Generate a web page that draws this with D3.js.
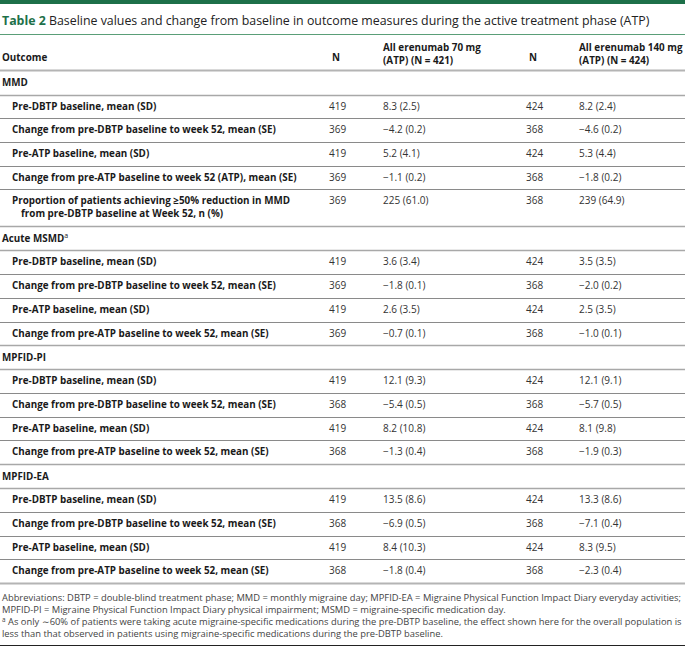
<!DOCTYPE html>
<html><head><meta charset="utf-8">
<script src="https://cdn.jsdelivr.net/npm/d3@7"></script>
<style>
html,body{margin:0;padding:0;background:#fff;}
svg{display:block;font-family:"Open Sans",sans-serif;}
</style></head>
<body><div id="chart"></div>
<script>
// ---- data ----
const titleLabel = "Table 2";
const titleText = "Baseline values and change from baseline in outcome measures during the active treatment phase (ATP)";
const headerLabels = ["Outcome", "N", "All erenumab 70 mg|(ATP) (N = 421)", "N", "All erenumab 140 mg|(ATP) (N = 424)"];
const sections = ["MMD", "Acute MSMD", "MPFID-PI", "MPFID-EA"];
const sectionSup = ["", "a", "", ""];
const rowLabels = [
  ["Pre-DBTP baseline, mean (SD)", "Change from pre-DBTP baseline to week 52, mean (SE)", "Pre-ATP baseline, mean (SD)", "Change from pre-ATP baseline to week 52 (ATP), mean (SE)", "Proportion of patients achieving ≥50% reduction in MMD|from pre-DBTP baseline at Week 52, n (%)"],
  ["Pre-DBTP baseline, mean (SD)", "Change from pre-DBTP baseline to week 52, mean (SE)", "Pre-ATP baseline, mean (SD)", "Change from pre-ATP baseline to week 52, mean (SE)"],
  ["Pre-DBTP baseline, mean (SD)", "Change from pre-DBTP baseline to week 52, mean (SE)", "Pre-ATP baseline, mean (SD)", "Change from pre-ATP baseline to week 52, mean (SE)"],
  ["Pre-DBTP baseline, mean (SD)", "Change from pre-DBTP baseline to week 52, mean (SE)", "Pre-ATP baseline, mean (SD)", "Change from pre-ATP baseline to week 52, mean (SE)"]
];
const n70 = [[419, 369, 419, 369, 369], [419, 369, 419, 369], [419, 368, 419, 368], [419, 368, 419, 368]];
const val70 = [
  ["8.3 (2.5)", "−4.2 (0.2)", "5.2 (4.1)", "−1.1 (0.2)", "225 (61.0)"],
  ["3.6 (3.4)", "−1.8 (0.1)", "2.6 (3.5)", "−0.7 (0.1)"],
  ["12.1 (9.3)", "−5.4 (0.5)", "8.2 (10.8)", "−1.3 (0.4)"],
  ["13.5 (8.6)", "−6.9 (0.5)", "8.4 (10.3)", "−1.8 (0.4)"]
];
const n140 = [[424, 368, 424, 368, 368], [424, 368, 424, 368], [424, 368, 424, 368], [424, 368, 424, 368]];
const val140 = [
  ["8.2 (2.4)", "−4.6 (0.2)", "5.3 (4.4)", "−1.8 (0.2)", "239 (64.9)"],
  ["3.5 (3.5)", "−2.0 (0.2)", "2.5 (3.5)", "−1.0 (0.1)"],
  ["12.1 (9.1)", "−5.7 (0.5)", "8.1 (9.8)", "−1.9 (0.3)"],
  ["13.3 (8.6)", "−7.1 (0.4)", "8.3 (9.5)", "−2.3 (0.4)"]
];
const footLines = [
  "Abbreviations: DBTP = double-blind treatment phase; MMD = monthly migraine day; MPFID-EA = Migraine Physical Function Impact Diary everyday activities;",
  "MPFID-PI = Migraine Physical Function Impact Diary physical impairment; MSMD = migraine-specific medication day.",
  "^a As only ∼60% of patients were taking acute migraine-specific medications during the pre-DBTP baseline, the effect shown here for the overall population is",
  "less than that observed in patients using migraine-specific medications during the pre-DBTP baseline."
];

// ---- layout ----
const W = 685, H = 648;
const svg = d3.select("#chart").append("svg").attr("width", W).attr("height", H);
const green = "#1d7049";
const txt = "#1a1a1a";

// font-size fitting helper: size such that sample string spans target width
function fitSize(sample, weight, target) {
  const probe = svg.append("text").attr("font-size", 100).attr("font-weight", weight).text(sample);
  const w = probe.node().getComputedTextLength();
  probe.remove();
  return 100 * target / w;
}
const titleSize = fitSize(titleLabel + " " + titleText, 400, 646);
const labelSize = fitSize("Change from pre-ATP baseline to week 52 (ATP), mean (SE)", 700, 285);
const headSize = labelSize;
const footSize = fitSize(footLines[0], 400, 680);
const valSize = 10;

// columns
const colKeys = ["label", "n1", "v1", "n2", "v2"];
const colX = d3.scaleOrdinal().domain(colKeys).range([2, 329, 383, 526, 579]);

// flatten rows with unit heights
const rows = [];
sections.forEach((s, si) => {
  rows.push({type: "section", label: s, sup: sectionSup[si], h: 24});
  rowLabels[si].forEach((l, ri) => {
    const lines = l.split("|");
    rows.push({type: "data", lines, n1: n70[si][ri], v1: val70[si][ri], n2: n140[si][ri], v2: val140[si][ri], h: lines.length > 1 ? 37 : 23.7});
  });
});
let acc = 0;
rows.forEach(r => { r.u0 = acc; acc += r.h; r.u1 = acc; });
const y = d3.scaleLinear().domain([0, acc]).range([70.5, 583]);

// top bar
svg.append("rect").attr("x", 0).attr("y", 0).attr("width", W).attr("height", 4).attr("fill", green);

// title
const t = svg.append("text").attr("x", 2).attr("y", 25).attr("font-size", titleSize).attr("fill", "#222");
t.append("tspan").attr("font-weight", 700).attr("fill", green).text(titleLabel + " ");
t.append("tspan").text(titleText);
svg.append("line").attr("x1", 0).attr("x2", W).attr("y1", 34.5).attr("y2", 34.5).attr("stroke", "#5a9e78").attr("stroke-width", 1);

// header
const hdr = svg.append("g").attr("font-size", headSize).attr("font-weight", 700).attr("fill", txt);
headerLabels.forEach((h, i) => {
  const parts = h.split("|");
  if (parts.length === 1) {
    hdr.append("text").attr("x", colX(colKeys[i]) + (i === 1 || i === 3 ? 3 : 0)).attr("y", 60.5).text(parts[0]);
  } else {
    parts.forEach((p, j) => hdr.append("text").attr("x", colX(colKeys[i])).attr("y", 51 + j * 12.5).text(p));
  }
});
svg.append("line").attr("x1", 0).attr("x2", W).attr("y1", 70.5).attr("y2", 70.5).attr("stroke", "#b4b4b4").attr("stroke-width", 2.2);

// rows
const g = svg.append("g");
rows.forEach((r, i) => {
  const top = y(r.u0), bot = y(r.u1);
  if (r.type === "section") {
    const tx = g.append("text").attr("x", colX("label")).attr("y", (top + bot) / 2 + 3.5)
      .attr("font-size", labelSize).attr("font-weight", 700).attr("fill", txt).text(r.label);
    if (r.sup) tx.append("tspan").attr("font-size", 7).attr("dy", -4).attr("font-weight", 400).text(r.sup);
  } else {
    const base = top + 15;
    r.lines.forEach((l, j) => {
      g.append("text").attr("x", colX("label") + 10 + (j > 0 ? 9 : 0)).attr("y", base + j * 12.5)
        .attr("font-size", labelSize).attr("font-weight", 700).attr("fill", txt).text(l);
    });
    ["n1", "v1", "n2", "v2"].forEach(k => {
      g.append("text").attr("x", colX(k)).attr("y", base).attr("font-size", valSize).attr("fill", "#333").text(r[k]);
    });
  }
  if (i < rows.length - 1) {
    const thick = rows[i + 1].type === "section" || r.type === "section";
    g.append("line").attr("x1", 0).attr("x2", W).attr("y1", Math.round(bot) + 0.5).attr("y2", Math.round(bot) + 0.5)
      .attr("stroke", thick ? "#a8a8a8" : "#8a8a8a").attr("stroke-width", thick ? 1.6 : 1);
  }
});
svg.append("line").attr("x1", 0).attr("x2", W).attr("y1", 583.5).attr("y2", 583.5).attr("stroke", "#b4b4b4").attr("stroke-width", 2.2);

// footnotes
const f = svg.append("g").attr("font-size", footSize).attr("fill", "#444");
footLines.forEach((l, i) => {
  const tx = f.append("text").attr("x", 2).attr("y", 600.5 + i * 12);
  if (l.startsWith("^a")) {
    tx.append("tspan").attr("font-size", footSize * 0.68).attr("dy", -3).text("a");
    tx.append("tspan").attr("dy", 3).text(l.slice(2));
  } else tx.text(l);
});
svg.append("line").attr("x1", 0).attr("x2", W).attr("y1", 645.5).attr("y2", 645.5).attr("stroke", "#222").attr("stroke-width", 1);
</script></body></html>
